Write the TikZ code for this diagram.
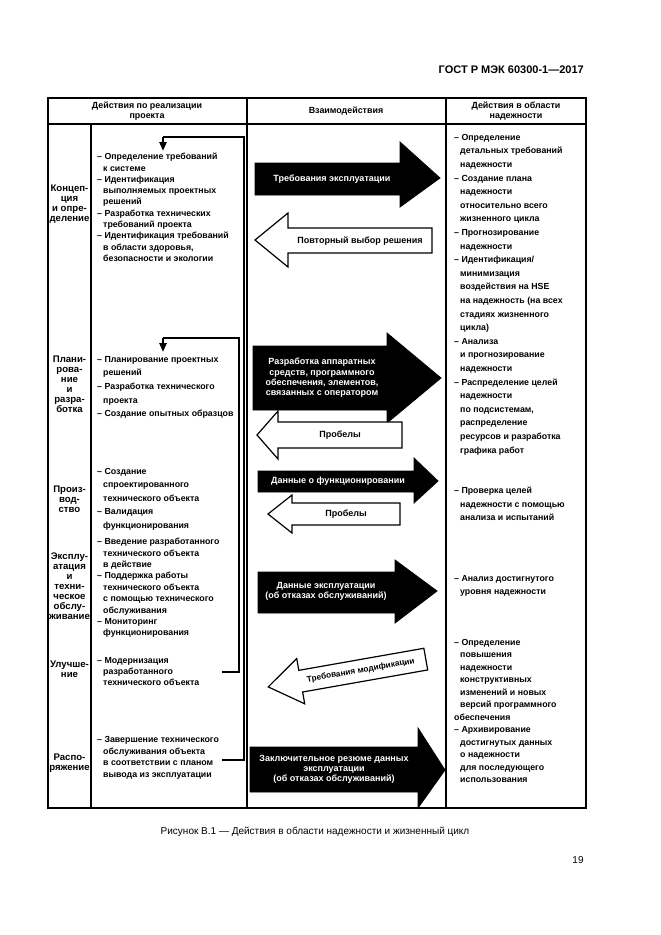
\documentclass[tikz,border=0pt]{standalone}
\usepackage{fontspec}
\setmainfont{Liberation Sans}
\usetikzlibrary{arrows.meta}
\newcommand{\ii}{\hspace*{6pt}}
\newcommand{\fz}[1]{\fontsize{8.8}{#1}\selectfont\bfseries}
\begin{document}
\begin{tikzpicture}[x=1pt,y=-1pt,
  tbl/.style={line width=1.6pt},
  itm/.style={anchor=north west,inner sep=0pt,align=left,font=\fz{11.3}},
  phase/.style={anchor=north,inner sep=0pt,align=center,font=\fontsize{9.6}{10}\selectfont\bfseries},
  hdr/.style={inner sep=0pt,align=center,font=\fontsize{8.9}{10.5}\selectfont\bfseries},
  blk/.style={fill=black,draw=black,line width=0.8pt},
  wht/.style={fill=white,draw=black,line width=1.2pt},
  atxt/.style={inner sep=0pt,align=center,font=\fontsize{9}{10}\selectfont\bfseries},
  loop/.style={line width=2.6pt},
  looparrow/.style={line width=2.6pt,-{Triangle[width=7pt,length=9pt]}}]
\useasboundingbox (0,0) rectangle (661,935);
\fill[white] (0,0) rectangle (661,935);

% page header, caption, page number
\node[anchor=east,inner sep=0pt,font=\fontsize{11}{12}\selectfont\bfseries] (gost) at (584,70) {ГОСТ Р МЭК 60300-1—2017};
\node[inner sep=0pt,font=\fontsize{10}{12}\selectfont] (cap) at (315,832) {Рисунок В.1 — Действия в области надежности и жизненный цикл};
\node[inner sep=0pt,font=\fontsize{10}{12}\selectfont] (pg) at (578,860) {19};

% table
\draw[tbl,line width=2pt] (48,98) rectangle (586,808);
\draw[tbl,line width=2.4pt] (48,124) -- (586,124);
\draw[tbl] (91,124) -- (91,808);
\draw[tbl] (247,98) -- (247,808);
\draw[tbl] (446,98) -- (446,808);

\node[hdr] (h1) at (147,111) {Действия по реализации\\проекта};
\node[hdr] (h2) at (346,111) {Взаимодействия};
\node[hdr] (h3) at (516,111) {Действия в области\\надежности};

% phase labels
\node[phase] (p1) at (69.5,185) {Концеп-\\ция\\и опре-\\деление};
\node[phase] (p2) at (69.5,356) {Плани-\\рова-\\ние\\и\\разра-\\ботка};
\node[phase] (p3) at (69.5,486) {Произ-\\вод-\\ство};
\node[phase] (p4) at (69.5,553) {Эксплу-\\атация\\и\\техни-\\ческое\\обслу-\\живание};
\node[phase] (p5) at (69.5,661) {Улучше-\\ние};
\node[phase] (p6) at (69.5,754) {Распо-\\ряжение};

% project activities
\node[itm] (l1) at (97,153) {– Определение требований\\\ii к системе\\– Идентификация\\\ii выполняемых проектных\\\ii решений\\– Разработка технических\\\ii требований проекта\\– Идентификация требований\\\ii в области здоровья,\\\ii безопасности и экологии};
\node[itm,font=\fz{13.6}] (l2) at (97,356) {– Планирование проектных\\\ii решений\\– Разработка технического\\\ii проекта\\– Создание опытных образцов};
\node[itm,font=\fz{13.5}] (l3) at (97,468) {– Создание\\\ii спроектированного\\\ii технического объекта\\– Валидация\\\ii функционирования};
\node[itm,font=\fz{11.4}] (l4) at (97,538) {– Введение разработанного\\\ii технического объекта\\\ii в действие\\– Поддержка работы\\\ii технического объекта\\\ii с помощью технического\\\ii обслуживания\\– Мониторинг\\\ii функционирования};
\node[itm,font=\fz{11}] (l5) at (97,657) {– Модернизация\\\ii разработанного\\\ii технического объекта};
\node[itm,font=\fz{11.7}] (l6) at (97,736) {– Завершение технического\\\ii обслуживания объекта\\\ii в соответствии с планом\\\ii вывода из эксплуатации};

% dependability activities
\node[itm,font=\fz{13.6}] (r1) at (454,134) {– Определение\\\ii детальных требований\\\ii надежности\\– Создание плана\\\ii надежности\\\ii относительно всего\\\ii жизненного цикла\\– Прогнозирование\\\ii надежности\\– Идентификация/\\\ii минимизация\\\ii воздействия на HSE\\\ii на надежность (на всех\\\ii стадиях жизненного\\\ii цикла)\\– Анализа\\\ii и прогнозирование\\\ii надежности\\– Распределение целей\\\ii надежности\\\ii по подсистемам,\\\ii распределение\\\ii ресурсов и разработка\\\ii графика работ};
\node[itm,font=\fz{13.5}] (r2) at (454,487) {– Проверка целей\\\ii надежности с помощью\\\ii анализа и испытаний};
\node[itm,font=\fz{13.5}] (r3) at (454,575) {– Анализ достигнутого\\\ii уровня надежности};
\node[itm,font=\fz{12.5}] (r4) at (454,639) {– Определение\\\ii повышения\\\ii надежности\\\ii конструктивных\\\ii изменений и новых\\\ii версий программного\\обеспечения\\– Архивирование\\\ii достигнутых данных\\\ii о надежности\\\ii для последующего\\\ii использования};

% feedback loops
\coordinate (a0) at (222,760);
\coordinate (a1) at (244,760);
\coordinate (a2) at (244,137);
\coordinate (a3) at (163,137);
\coordinate (a4) at (163,151);
\draw[loop] (a0) -- (a1) -- (a2) -- (a3);
\draw[looparrow] (a3) -- (a4);
\coordinate (b0) at (222,672);
\coordinate (b1) at (239,672);
\coordinate (b2) at (239,338);
\coordinate (b3) at (163,338);
\coordinate (b4) at (163,352);
\draw[loop] (b0) -- (b1) -- (b2) -- (b3);
\draw[looparrow] (b3) -- (b4);

% interaction arrows
\draw[blk] (255,163) -- (400,163) -- (400,142) -- (440,178) -- (400,207) -- (400,195) -- (255,195) -- cycle;
\node[atxt,text=white] (t1) at (332,179) {Требования эксплуатации};

\draw[wht] (432,228) -- (288,228) -- (288,213) -- (255,240) -- (288,267) -- (288,253) -- (432,253) -- cycle;
\node[atxt] (t2) at (360,241) {Повторный выбор решения};

\draw[blk] (253,346) -- (387,346) -- (387,333) -- (441,378) -- (387,423) -- (387,410) -- (253,410) -- cycle;
\node[atxt,text=white,font=\fontsize{9}{10.3}\selectfont\bfseries] (t3) at (322,378) {Разработка аппаратных\\средств, программного\\обеспечения, элементов,\\связанных с оператором};

\draw[wht] (402,422) -- (278,422) -- (278,411) -- (257,435) -- (278,459) -- (278,448) -- (402,448) -- cycle;
\node[atxt] (t4) at (340,435) {Пробелы};

\draw[blk] (258,471) -- (414,471) -- (414,458) -- (438,481) -- (414,503) -- (414,492) -- (258,492) -- cycle;
\node[atxt,text=white] (t5) at (338,481) {Данные о функционировании};

\draw[wht] (400,503) -- (292,503) -- (292,495) -- (268,514) -- (292,533) -- (292,525) -- (400,525) -- cycle;
\node[atxt] (t6) at (346,514) {Пробелы};

\draw[blk] (258,572) -- (395,572) -- (395,560) -- (437,591) -- (395,623) -- (395,613) -- (258,613) -- cycle;
\node[atxt,text=white] (t7) at (326,591) {Данные эксплуатации\\(об отказах обслуживаний)};

\begin{scope}[shift={(347,673)},rotate=10]
\draw[wht] (80,-11) -- (-47,-11) -- (-47,-23) -- (-80,0) -- (-47,23) -- (-47,11) -- (80,11) -- cycle;
\node[atxt,rotate=10,font=\fontsize{8.3}{10}\selectfont\bfseries] (t8) at (14,0) {Требования модификации};
\end{scope}

\draw[blk] (250,747) -- (418,747) -- (418,728) -- (445,770) -- (418,808) -- (418,792) -- (250,792) -- cycle;
\node[atxt,text=white] (t9) at (334,769) {Заключительное резюме данных\\эксплуатации\\(об отказах обслуживаний)};
\end{tikzpicture}
\end{document}
